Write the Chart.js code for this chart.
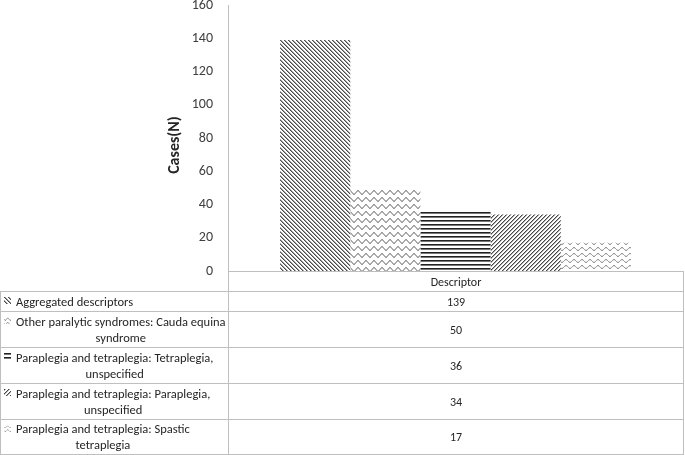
<!DOCTYPE html>
<html><head><meta charset="utf-8">
<script src="https://cdn.jsdelivr.net/npm/chart.js@4/dist/chart.umd.min.js"></script>
<style>
html,body{margin:0;padding:0;background:#fff;}
#wrap{position:relative;width:685px;height:455px;overflow:hidden;font-family:Carlito,Lato,sans-serif;}
#c{position:absolute;left:0;top:0;}
.cell{position:absolute;box-sizing:border-box;border:0 solid #bfbfbf;color:#262626;font-size:12.5px;line-height:16px;display:flex;align-items:center;}
.val{justify-content:center;font-size:12px;}
.lab{justify-content:flex-start;padding-left:3px;}
.key{width:7px;height:7px;flex:none;margin-right:5px;align-self:flex-start;}
.txt{text-align:center;}
</style></head><body>
<div id="wrap"><canvas id="c" width="685" height="455"></canvas><div id="tbl"></div></div>
<script>
const category = 'Descriptor';
const seriesLines = [
  ['Aggregated descriptors'],
  ['Other paralytic syndromes: Cauda equina', 'syndrome'],
  ['Paraplegia and tetraplegia: Tetraplegia,', 'unspecified'],
  ['Paraplegia and tetraplegia: Paraplegia,', 'unspecified'],
  ['Paraplegia and tetraplegia: Spastic', 'tetraplegia']
];
const seriesValues = [139, 50, 36, 34, 17];
const yTicks = [0, 20, 40, 60, 80, 100, 120, 140, 160];
const yTitle = 'Cases(N)';
const patternKinds = ['diagDown', 'wave', 'hlines', 'diagUp', 'dashWave'];

function tile(w, h, fn) {
  const c = document.createElement('canvas'); c.width = w; c.height = h;
  const x = c.getContext('2d'); x.fillStyle = '#fff'; x.fillRect(0, 0, w, h); fn(x, w, h); return c;
}
function waveY(x, cy, a) { return cy + a * Math.sin(2 * Math.PI * x / 8); }
const tileMakers = {
  diagDown: () => tile(4, 4, (x) => { for (let i = 0; i < 4; i++) for (let j = 0; j < 4; j++) { const m = ((i - j) % 4 + 4) % 4; if (m === 0) { x.fillStyle = '#4a4a4a'; x.fillRect(i, j, 1, 1); } else if (m === 1) { x.fillStyle = '#a0a0a0'; x.fillRect(i, j, 1, 1); } } }),
  diagUp: () => tile(4, 4, (x) => { for (let i = 0; i < 4; i++) for (let j = 0; j < 4; j++) { const m = (i + j) % 4; if (m === 0) { x.fillStyle = '#444'; x.fillRect(i, j, 1, 1); } else if (m === 1) { x.fillStyle = '#b0b0b0'; x.fillRect(i, j, 1, 1); } } }),
  hlines: () => tile(1, 4, (x) => { x.fillStyle = '#222'; x.fillRect(0, 0, 1, 1); x.fillStyle = '#777'; x.fillRect(0, 1, 1, 1); }),
  wave: () => tile(8, 7, (x) => { x.strokeStyle = '#444'; x.lineWidth = 1; x.beginPath(); for (let i = -1; i <= 9; i += 0.25) { const y = waveY(i, 3.5, 1.8); if (i === -1) x.moveTo(i, y); else x.lineTo(i, y); } x.stroke(); }),
  dashWave: () => tile(8, 6, (x) => { x.strokeStyle = '#555'; x.lineWidth = 1; [[0.3, 3.7], [4.3, 7.7]].forEach(([a, b]) => { x.beginPath(); for (let i = a; i <= b + 0.001; i += 0.2) { const y = waveY(i, 3, 1.4); if (i === a) x.moveTo(i, y); else x.lineTo(i, y); } x.stroke(); }); })
};
const tiles = patternKinds.map(k => tileMakers[k]());
const canvas = document.getElementById('c');
const ctx = canvas.getContext('2d');
const patterns = tiles.map(t => ctx.createPattern(t, 'repeat'));

Chart.defaults.font.family = 'Carlito, Lato, sans-serif';

const titlePlugin = {
  id: 'yTitleDraw',
  afterDraw(chart) {
    const c = chart.ctx; c.save();
    c.translate(175, 145); c.rotate(-Math.PI / 2);
    c.font = 'bold 16px Carlito, Lato, sans-serif'; c.fillStyle = '#262626';
    c.textAlign = 'center'; c.textBaseline = 'middle';
    c.fillText(yTitle, 0, 0); c.restore();
  }
};

new Chart(canvas, {
  type: 'bar',
  data: {
    labels: [category],
    datasets: seriesValues.map((v, i) => ({
      label: seriesLines[i].join(' '),
      data: [v],
      backgroundColor: patterns[i],
      borderWidth: 0
    }))
  },
  options: {
    responsive: false, animation: false, devicePixelRatio: 1,
    layout: { padding: { top: 5, right: 2, bottom: 184, left: 0 } },
    categoryPercentage: 0.771, barPercentage: 1,
    plugins: { legend: { display: false }, tooltip: { enabled: false } },
    scales: {
      x: { display: false },
      y: {
        min: 0, max: 160,
        afterBuildTicks: (s) => { s.ticks = yTicks.map(v => ({ value: v })); },
        afterFit: (s) => { s.width = 228; s.paddingTop = 0; s.paddingBottom = 0; },
        grid: { display: false, drawTicks: false },
        border: { display: true, color: '#bfbfbf', width: 1 },
        ticks: { padding: 15, color: '#404040', font: { size: 14 } }
      }
    }
  },
  plugins: [titlePlugin]
});

// data table
const tbl = document.getElementById('tbl');
function cell(left, top, w, h, borders, cls, html) {
  const d = document.createElement('div');
  d.className = 'cell ' + cls;
  d.style.left = left + 'px'; d.style.top = top + 'px'; d.style.width = w + 'px'; d.style.height = h + 'px';
  d.style.borderWidth = borders;
  d.innerHTML = html; tbl.appendChild(d); return d;
}
const rowTops = [291, 311, 347, 383, 419];
const rowH = [21, 37, 37, 37, 36];
cell(228, 271, 456, 21, '1px 1px 0 1px', 'val', category);
seriesLines.forEach((lines, i) => {
  const last = i === seriesLines.length - 1;
  const bs = (patternKinds[i] === 'wave' || patternKinds[i] === 'dashWave') ? 'background-size:5px auto;' : '';
  const key = '<span class="key" style="background-image:url(' + tiles[i].toDataURL() + ');' + bs + 'margin-top:5px"></span>';
  cell(0, rowTops[i], 229, rowH[i], '1px 0 ' + (last ? '1px' : '0') + ' 1px', 'lab', key + '<span class="txt">' + lines.join('<br>') + '</span>');
  cell(228, rowTops[i], 456, rowH[i], '1px 1px ' + (last ? '1px' : '0') + ' 1px', 'val', String(seriesValues[i]));
});
</script>
</body></html>
